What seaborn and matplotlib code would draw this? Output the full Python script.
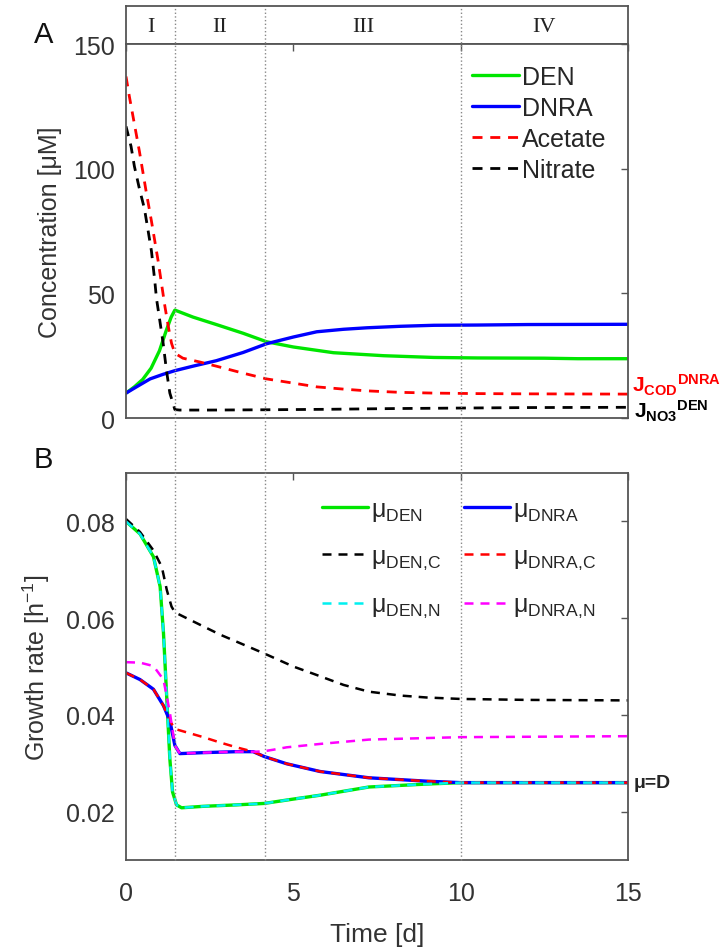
import seaborn as sns
import matplotlib.pyplot as plt
from matplotlib.lines import Line2D
from matplotlib.transforms import blended_transform_factory

# phase boundaries [d] and labels
phase_bounds = [1.46, 4.15, 10.0]
phase_labels = ['I', 'II', 'III', 'IV']
phase_centers = [0.73, 2.8, 7.1, 12.5]

# panel A: concentrations [uM]
t_den = [0, 0.25, 0.5, 0.75, 1.0, 1.2, 1.35, 1.46, 2.0, 2.7, 3.5, 4.2, 5.0, 6.2, 7.7, 9.2, 10.5, 12.5, 13.5, 15]
c_den = [10, 12.5, 15.5, 20, 27, 35, 40.5, 43.3, 40.5, 37.5, 34, 30.6, 28.5, 26.2, 25, 24.3, 24.1, 24.0, 23.8, 23.8]

t_dnra = [0, 0.35, 0.72, 1.1, 1.46, 2.0, 2.7, 3.5, 4.2, 5.0, 5.7, 6.5, 7.2, 8.2, 9.2, 10.5, 12, 15]
c_dnra = [10, 12.8, 15.7, 17.5, 19, 20.8, 23, 26.3, 29.8, 32.5, 34.6, 35.6, 36.2, 36.8, 37.2, 37.3, 37.5, 37.6]

t_ac = [0, 0.1, 0.25, 0.4, 0.5, 0.6, 0.76, 0.86, 0.96, 1.06, 1.16, 1.26, 1.36, 1.46, 1.7, 2.2, 2.7,
        3.5, 4.2, 5.0, 5.7, 6.5, 7.2, 8.2, 9.2, 10.5, 12, 15]
c_ac = [137, 129, 118, 107, 99, 91, 79, 71, 63, 54, 45, 37, 30, 26, 24, 22.5, 20.8,
        18, 15.7, 14, 12.5, 11.6, 10.9, 10.3, 10, 9.8, 9.7, 9.6]

t_no3 = [0, 0.15, 0.25, 0.4, 0.55, 0.65, 0.76, 0.86, 0.91, 1.0, 1.11, 1.21, 1.31, 1.46,
         1.6, 2.5, 4, 6, 8, 10, 12, 15]
c_no3 = [117, 109, 101, 92, 84, 76, 67, 55, 48, 40, 30, 19, 10, 3.4,
         3.2, 3.2, 3.3, 3.5, 3.8, 4.0, 4.2, 4.3]

# panel B: growth rates [1/h]
t_mu_den = [0, 0.42, 0.82, 1.02, 1.12, 1.22, 1.31, 1.39, 1.51, 1.66, 2.3, 3.3, 4.13, 5.0, 5.8, 7.26, 8.98, 10, 12, 15]
mu_den = [0.080, 0.0774, 0.0727, 0.0665, 0.0569, 0.0432, 0.0309, 0.0241, 0.0214, 0.0208, 0.0211, 0.0214,
          0.0217, 0.0226, 0.0234, 0.0251, 0.0257, 0.026, 0.026, 0.026]
t_mu_den_n = [0, 0.42, 0.82, 1.02, 1.12, 1.22, 1.31, 1.39, 1.51, 1.66, 2.3, 3.3, 4.13, 5.0, 5.8, 7.26, 8.98, 10, 12, 15]
mu_den_n = [0.080, 0.0774, 0.0727, 0.0665, 0.0569, 0.0432, 0.0309, 0.0241, 0.0214, 0.0208, 0.0211, 0.0214,
            0.0217, 0.0226, 0.0234, 0.0251, 0.0257, 0.026, 0.026, 0.026]

t_mu_den_c = [0, 0.42, 0.82, 1.07, 1.22, 1.36, 1.46, 1.81, 2.81, 4.13, 5.0, 5.6, 6.5, 7.26, 8.2, 8.98, 10, 12, 15]
mu_den_c = [0.0805, 0.0778, 0.074, 0.0706, 0.0658, 0.0624, 0.0612, 0.060, 0.0566, 0.0527, 0.0500, 0.0485,
            0.0462, 0.0448, 0.0440, 0.0436, 0.0433, 0.0431, 0.043]

t_mu_dnra = [0, 0.42, 0.82, 1.12, 1.31, 1.46, 1.61, 2.31, 3.3, 3.8, 4.13, 4.8, 5.8, 7.26, 8.98, 10, 12, 15]
mu_dnra = [0.0487, 0.0473, 0.0453, 0.0419, 0.0388, 0.0337, 0.032, 0.0322, 0.0324, 0.0324, 0.0314, 0.0299,
           0.0283, 0.027, 0.0263, 0.026, 0.026, 0.026]

t_mu_dnra_c = [0, 0.42, 0.82, 1.12, 1.31, 1.46, 1.81, 2.31, 2.81, 3.3, 3.8, 4.13, 4.8, 5.8, 7.26, 8.98, 10, 12, 15]
mu_dnra_c = [0.0487, 0.0473, 0.0453, 0.0419, 0.0388, 0.0371, 0.0364, 0.0354, 0.0343, 0.0333, 0.0324, 0.0314,
             0.0299, 0.0283, 0.027, 0.0263, 0.026, 0.026, 0.026]

t_mu_dnra_n = [0, 0.42, 0.82, 1.12, 1.31, 1.46, 1.61, 2.31, 3.3, 3.9, 4.13, 4.4, 4.8, 5.8, 7.26, 10, 15]
mu_dnra_n = [0.0509, 0.0508, 0.0501, 0.0473, 0.0405, 0.0337, 0.032, 0.0322, 0.0324, 0.0324, 0.0325, 0.0328,
             0.0333, 0.0340, 0.0349, 0.0354, 0.0356]

mu_d = 0.026

sns.set_theme(style='white')
plt.rcParams['font.family'] = ['Liberation Sans', 'DejaVu Sans']
plt.rcParams['mathtext.fontset'] = 'custom'
plt.rcParams['mathtext.rm'] = 'Liberation Sans'
plt.rcParams['mathtext.it'] = 'Liberation Sans:italic'
plt.rcParams['mathtext.bf'] = 'Liberation Sans:bold'
plt.rcParams['lines.dashed_pattern'] = [3.6, 2.8]

GREEN, BLUE, RED, BLACK = '#00e600', '#0000ff', '#ff0000', '#000000'
CYAN, MAGENTA = '#00f0f0', '#ff00ff'
SPINE = '#555555'
TXT = '#333333'

fig = plt.figure(figsize=(7.25, 9.53), dpi=100)
ax_s = fig.add_axes([0.1738, 0.9528, 0.6924, 0.0399])
ax_a = fig.add_axes([0.1738, 0.5603, 0.6924, 0.3924])
ax_b = fig.add_axes([0.1738, 0.0965, 0.6924, 0.4061])

# phase strip
ax_s.set_xlim(0, 15)
ax_s.set_ylim(0, 1)
ax_s.set_xticks([])
ax_s.set_yticks([])
for lab, xc in zip(phase_labels, phase_centers):
    ax_s.text(xc, 0.45, lab, ha='center', va='center', fontsize=16,
              family='Liberation Serif', color='#222222')

# panel A
lw = 2.4
sns.lineplot(x=t_den, y=c_den, ax=ax_a, color=GREEN, lw=lw, estimator=None, sort=False)
sns.lineplot(x=t_dnra, y=c_dnra, ax=ax_a, color=BLUE, lw=lw, estimator=None, sort=False)
sns.lineplot(x=t_ac, y=c_ac, ax=ax_a, color=RED, lw=2.0, linestyle='--', estimator=None, sort=False)
sns.lineplot(x=t_no3, y=c_no3, ax=ax_a, color=BLACK, lw=2.0, linestyle='--', estimator=None, sort=False)
ax_a.set_xlim(0, 15)
ax_a.set_ylim(0, 150)
ax_a.set_yticks([0, 50, 100, 150])
ax_a.set_xticks([0, 5, 10, 15])
ax_a.set_xticklabels([])
ax_a.set_ylabel('Concentration [μM]', fontsize=18, color=TXT, labelpad=8)

handles_a = [Line2D([], [], color=GREEN, lw=lw), Line2D([], [], color=BLUE, lw=lw),
             Line2D([], [], color=RED, lw=2.0, ls='--'), Line2D([], [], color=BLACK, lw=2.0, ls='--')]
ax_a.legend(handles_a, ['DEN', 'DNRA', 'Acetate', 'Nitrate'], loc='upper left',
            bbox_to_anchor=(0.67, 0.972), frameon=False, fontsize=18, handlelength=1.85,
            handletextpad=0.12, labelspacing=0.28, borderaxespad=0)

tr_a = blended_transform_factory(ax_a.transAxes, ax_a.transData)
ax_a.text(1.008, 13.5, r'$\mathbf{J_{COD}{}^{DNRA}}$', transform=tr_a, color=RED, fontsize=15,
          ha='left', va='center')
ax_a.text(1.012, 3.0, r'$\mathbf{J_{NO3}{}^{DEN}}$', transform=tr_a, color=BLACK, fontsize=15,
          ha='left', va='center')

# panel B
sns.lineplot(x=t_mu_den, y=mu_den, ax=ax_b, color=GREEN, lw=lw, estimator=None, sort=False)
sns.lineplot(x=t_mu_dnra, y=mu_dnra, ax=ax_b, color=BLUE, lw=lw, estimator=None, sort=False)
sns.lineplot(x=t_mu_den_c, y=mu_den_c, ax=ax_b, color=BLACK, lw=1.8, linestyle='--', estimator=None, sort=False)
sns.lineplot(x=t_mu_dnra_c, y=mu_dnra_c, ax=ax_b, color=RED, lw=1.8, linestyle='--', estimator=None, sort=False)
sns.lineplot(x=t_mu_den_n, y=mu_den_n, ax=ax_b, color=CYAN, lw=1.8, linestyle='--', estimator=None, sort=False)
sns.lineplot(x=t_mu_dnra_n, y=mu_dnra_n, ax=ax_b, color=MAGENTA, lw=1.8, linestyle='--', estimator=None, sort=False)
ax_b.set_xlim(0, 15)
ax_b.set_ylim(0.01, 0.09)
ax_b.set_yticks([0.02, 0.04, 0.06, 0.08])
ax_b.set_xticks([0, 5, 10, 15])
ax_b.set_ylabel('Growth rate [h$^{-1}$]', fontsize=18, color=TXT, labelpad=10)
ax_b.set_xlabel('Time [d]', fontsize=19, color=TXT, labelpad=12)

handles_b = [Line2D([], [], color=GREEN, lw=lw), Line2D([], [], color=BLACK, lw=1.8, ls='--'),
             Line2D([], [], color=CYAN, lw=1.8, ls='--'), Line2D([], [], color=BLUE, lw=lw),
             Line2D([], [], color=RED, lw=1.8, ls='--'), Line2D([], [], color=MAGENTA, lw=1.8, ls='--')]
labels_b = ['μ$_{\\mathrm{DEN}}$', 'μ$_{\\mathrm{DEN{,}C}}$', 'μ$_{\\mathrm{DEN{,}N}}$',
            'μ$_{\\mathrm{DNRA}}$', 'μ$_{\\mathrm{DNRA{,}C}}$', 'μ$_{\\mathrm{DNRA{,}N}}$']
ax_b.legend(handles_b, labels_b, loc='upper left', bbox_to_anchor=(0.37, 0.965), ncol=2,
            frameon=False, fontsize=18, handlelength=1.85, handletextpad=0.12,
            labelspacing=0.85, columnspacing=0.9, borderaxespad=0)

tr_b = blended_transform_factory(ax_b.transAxes, ax_b.transData)
ax_b.text(1.012, mu_d, 'μ=D', transform=tr_b, fontsize=14, fontweight='bold',
          ha='left', va='center')

for ax in (ax_s, ax_a, ax_b):
    for sp in ax.spines.values():
        sp.set_color(SPINE)
        sp.set_linewidth(1.3)
for ax in (ax_a, ax_b):
    ax.tick_params(direction='in', length=5, width=1, color=SPINE, top=True, right=True,
                   labelsize=18, labelcolor=TXT, pad=8)
ax_b.tick_params(axis='x', pad=15)

# phase boundaries spanning the whole stack
tr_f = blended_transform_factory(ax_b.transData, fig.transFigure)
for xb in phase_bounds:
    fig.add_artist(Line2D([xb, xb], [0.0965, 0.9927], transform=tr_f, color='#888888',
                          lw=1.0, ls=':', zorder=0.5))

fig.text(0.047, 0.963, 'A', fontsize=21, color='#111111', ha='left', va='center')
fig.text(0.047, 0.517, 'B', fontsize=21, color='#111111', ha='left', va='center')

fig.savefig('out.png', dpi=100, facecolor='white')
